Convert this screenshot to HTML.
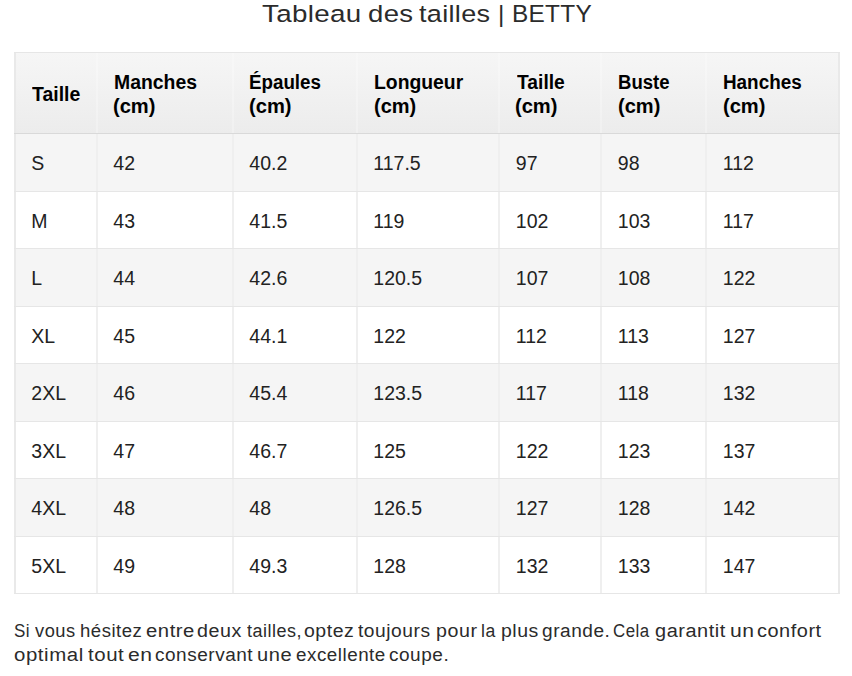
<!DOCTYPE html>
<html><head><meta charset="utf-8"><style>
html,body{margin:0;padding:0;background:#fff;}
body{width:852px;height:676px;position:relative;overflow:hidden;font-family:"Liberation Sans",sans-serif;color:#000;}
.a{position:absolute;white-space:nowrap;}
.hl{position:absolute;height:1px;background:#e6e6e6;}
.vl{position:absolute;width:2px;background:#efefef;}
.t{font-size:19.5px;line-height:19.5px;color:#222;}
.h{font-size:19.5px;line-height:24px;font-weight:bold;}
</style></head><body>

<div class="a" style="left:262.07px;top:-0.89px;font-size:24.5px;line-height:30px;letter-spacing:0.3px;transform:scaleX(1.1329);transform-origin:0 0;color:#2b2b2b">Tableau</div>
<div class="a" style="left:367.58px;top:-0.89px;font-size:24.5px;line-height:30px;letter-spacing:0.3px;transform:scaleX(1.1237);transform-origin:0 0;color:#2b2b2b">des</div>
<div class="a" style="left:419.20px;top:-0.89px;font-size:24.5px;line-height:30px;letter-spacing:0.3px;transform:scaleX(1.1031);transform-origin:0 0;color:#2b2b2b">tailles</div>
<div class="a" style="left:497.90px;top:-0.89px;font-size:24.5px;line-height:30px;letter-spacing:0.3px;transform:scaleX(1.0000);transform-origin:0 0;color:#2b2b2b">|</div>
<div class="a" style="left:512.01px;top:-0.89px;font-size:24.5px;line-height:30px;letter-spacing:0.3px;transform:scaleX(0.9948);transform-origin:0 0;color:#2b2b2b">BETTY</div>
<div class="a" style="left:14px;top:52px;width:826px;height:81px;background:linear-gradient(#f6f6f6,#ececec)"></div>
<div class="a" style="left:14px;top:133px;width:826px;height:57.5px;background:#f5f5f5"></div>
<div class="a" style="left:14px;top:190.5px;width:826px;height:57.5px;background:#ffffff"></div>
<div class="a" style="left:14px;top:248px;width:826px;height:57.5px;background:#f5f5f5"></div>
<div class="a" style="left:14px;top:305.5px;width:826px;height:57.5px;background:#ffffff"></div>
<div class="a" style="left:14px;top:363px;width:826px;height:57.5px;background:#f5f5f5"></div>
<div class="a" style="left:14px;top:420.5px;width:826px;height:57.5px;background:#ffffff"></div>
<div class="a" style="left:14px;top:478px;width:826px;height:57.5px;background:#f5f5f5"></div>
<div class="a" style="left:14px;top:535.5px;width:826px;height:57.5px;background:#ffffff"></div>
<div class="a h" style="left:32.20px;top:82.14px;transform:scaleX(0.9979);transform-origin:0 0">Taille</div>
<div class="a h" style="left:113.51px;top:70.14px;transform:scaleX(0.9939);transform-origin:0 0">Manches</div>
<div class="a h" style="left:249.14px;top:70.14px;transform:scaleX(0.9616);transform-origin:0 0">Épaules</div>
<div class="a h" style="left:373.61px;top:70.14px;transform:scaleX(0.9921);transform-origin:0 0">Longueur</div>
<div class="a h" style="left:516.50px;top:70.14px;transform:scaleX(0.9875);transform-origin:0 0">Taille</div>
<div class="a h" style="left:617.65px;top:70.14px;transform:scaleX(0.9509);transform-origin:0 0">Buste</div>
<div class="a h" style="left:723.03px;top:70.14px;transform:scaleX(0.9675);transform-origin:0 0">Hanches</div>
<div class="a h" style="left:113.47px;top:94.04px;transform:scaleX(1.0308);transform-origin:0 0">(cm)</div>
<div class="a h" style="left:249.07px;top:94.04px;transform:scaleX(1.0333);transform-origin:0 0">(cm)</div>
<div class="a h" style="left:373.57px;top:94.04px;transform:scaleX(1.0256);transform-origin:0 0">(cm)</div>
<div class="a h" style="left:515.47px;top:94.04px;transform:scaleX(1.0308);transform-origin:0 0">(cm)</div>
<div class="a h" style="left:617.57px;top:94.04px;transform:scaleX(1.0282);transform-origin:0 0">(cm)</div>
<div class="a h" style="left:722.97px;top:94.04px;transform:scaleX(1.0308);transform-origin:0 0">(cm)</div>
<div class="a t" style="left:31.3px;top:153.79px">S</div>
<div class="a t" style="left:113.3px;top:153.79px">42</div>
<div class="a t" style="left:249.3px;top:153.79px">40.2</div>
<div class="a t" style="left:373.3px;top:153.79px">117.5</div>
<div class="a t" style="left:515.8px;top:153.79px">97</div>
<div class="a t" style="left:617.8px;top:153.79px">98</div>
<div class="a t" style="left:722.8px;top:153.79px">112</div>
<div class="a t" style="left:31.3px;top:211.79px">M</div>
<div class="a t" style="left:113.3px;top:211.79px">43</div>
<div class="a t" style="left:249.3px;top:211.79px">41.5</div>
<div class="a t" style="left:373.3px;top:211.79px">119</div>
<div class="a t" style="left:515.8px;top:211.79px">102</div>
<div class="a t" style="left:617.8px;top:211.79px">103</div>
<div class="a t" style="left:722.8px;top:211.79px">117</div>
<div class="a t" style="left:31.3px;top:268.79px">L</div>
<div class="a t" style="left:113.3px;top:268.79px">44</div>
<div class="a t" style="left:249.3px;top:268.79px">42.6</div>
<div class="a t" style="left:373.3px;top:268.79px">120.5</div>
<div class="a t" style="left:515.8px;top:268.79px">107</div>
<div class="a t" style="left:617.8px;top:268.79px">108</div>
<div class="a t" style="left:722.8px;top:268.79px">122</div>
<div class="a t" style="left:31.3px;top:326.79px">XL</div>
<div class="a t" style="left:113.3px;top:326.79px">45</div>
<div class="a t" style="left:249.3px;top:326.79px">44.1</div>
<div class="a t" style="left:373.3px;top:326.79px">122</div>
<div class="a t" style="left:515.8px;top:326.79px">112</div>
<div class="a t" style="left:617.8px;top:326.79px">113</div>
<div class="a t" style="left:722.8px;top:326.79px">127</div>
<div class="a t" style="left:31.3px;top:383.79px">2XL</div>
<div class="a t" style="left:113.3px;top:383.79px">46</div>
<div class="a t" style="left:249.3px;top:383.79px">45.4</div>
<div class="a t" style="left:373.3px;top:383.79px">123.5</div>
<div class="a t" style="left:515.8px;top:383.79px">117</div>
<div class="a t" style="left:617.8px;top:383.79px">118</div>
<div class="a t" style="left:722.8px;top:383.79px">132</div>
<div class="a t" style="left:31.3px;top:441.79px">3XL</div>
<div class="a t" style="left:113.3px;top:441.79px">47</div>
<div class="a t" style="left:249.3px;top:441.79px">46.7</div>
<div class="a t" style="left:373.3px;top:441.79px">125</div>
<div class="a t" style="left:515.8px;top:441.79px">122</div>
<div class="a t" style="left:617.8px;top:441.79px">123</div>
<div class="a t" style="left:722.8px;top:441.79px">137</div>
<div class="a t" style="left:31.3px;top:498.79px">4XL</div>
<div class="a t" style="left:113.3px;top:498.79px">48</div>
<div class="a t" style="left:249.3px;top:498.79px">48</div>
<div class="a t" style="left:373.3px;top:498.79px">126.5</div>
<div class="a t" style="left:515.8px;top:498.79px">127</div>
<div class="a t" style="left:617.8px;top:498.79px">128</div>
<div class="a t" style="left:722.8px;top:498.79px">142</div>
<div class="a t" style="left:31.3px;top:556.79px">5XL</div>
<div class="a t" style="left:113.3px;top:556.79px">49</div>
<div class="a t" style="left:249.3px;top:556.79px">49.3</div>
<div class="a t" style="left:373.3px;top:556.79px">128</div>
<div class="a t" style="left:515.8px;top:556.79px">132</div>
<div class="a t" style="left:617.8px;top:556.79px">133</div>
<div class="a t" style="left:722.8px;top:556.79px">147</div>
<div class="vl" style="left:14px;top:52px;height:81px;background:rgba(255,255,255,0.25)"></div>
<div class="vl" style="left:14px;top:134px;height:460px"></div>
<div class="vl" style="left:96px;top:52px;height:81px;background:rgba(255,255,255,0.25)"></div>
<div class="vl" style="left:96px;top:134px;height:460px"></div>
<div class="vl" style="left:232px;top:52px;height:81px;background:rgba(255,255,255,0.25)"></div>
<div class="vl" style="left:232px;top:134px;height:460px"></div>
<div class="vl" style="left:356px;top:52px;height:81px;background:rgba(255,255,255,0.25)"></div>
<div class="vl" style="left:356px;top:134px;height:460px"></div>
<div class="vl" style="left:498px;top:52px;height:81px;background:rgba(255,255,255,0.25)"></div>
<div class="vl" style="left:498px;top:134px;height:460px"></div>
<div class="vl" style="left:600px;top:52px;height:81px;background:rgba(255,255,255,0.25)"></div>
<div class="vl" style="left:600px;top:134px;height:460px"></div>
<div class="vl" style="left:705px;top:52px;height:81px;background:rgba(255,255,255,0.25)"></div>
<div class="vl" style="left:705px;top:134px;height:460px"></div>
<div class="vl" style="left:838px;top:52px;height:81px;background:rgba(255,255,255,0.25)"></div>
<div class="vl" style="left:838px;top:134px;height:460px"></div>
<div class="vl" style="left:14px;top:52px;height:542px;background:#e9e9e9"></div>
<div class="vl" style="left:838px;top:52px;height:542px;background:#e9e9e9"></div>
<div class="hl" style="left:14px;top:52px;width:826px"></div>
<div class="hl" style="left:14px;top:133px;width:826px;background:#d9d9d9"></div>
<div class="hl" style="left:14px;top:191px;width:826px"></div>
<div class="hl" style="left:14px;top:248px;width:826px"></div>
<div class="hl" style="left:14px;top:306px;width:826px"></div>
<div class="hl" style="left:14px;top:363px;width:826px"></div>
<div class="hl" style="left:14px;top:421px;width:826px"></div>
<div class="hl" style="left:14px;top:478px;width:826px"></div>
<div class="hl" style="left:14px;top:536px;width:826px"></div>
<div class="hl" style="left:14px;top:593px;width:826px"></div>
<div class="a" style="left:14.06px;top:618.76px;font-size:18px;line-height:24px;letter-spacing:0.5px;transform:scaleX(0.9429);transform-origin:0 0;color:#2b2b2b">Si</div>
<div class="a" style="left:35.20px;top:618.76px;font-size:18px;line-height:24px;letter-spacing:0.5px;transform:scaleX(1.0154);transform-origin:0 0;color:#2b2b2b">vous</div>
<div class="a" style="left:79.97px;top:618.76px;font-size:18px;line-height:24px;letter-spacing:0.5px;transform:scaleX(1.0310);transform-origin:0 0;color:#2b2b2b">hésitez</div>
<div class="a" style="left:145.58px;top:618.76px;font-size:18px;line-height:24px;letter-spacing:0.5px;transform:scaleX(1.1244);transform-origin:0 0;color:#2b2b2b">entre</div>
<div class="a" style="left:197.01px;top:618.76px;font-size:18px;line-height:24px;letter-spacing:0.5px;transform:scaleX(1.0923);transform-origin:0 0;color:#2b2b2b">deux</div>
<div class="a" style="left:246.50px;top:618.76px;font-size:18px;line-height:24px;letter-spacing:0.5px;transform:scaleX(0.9981);transform-origin:0 0;color:#2b2b2b">tailles,</div>
<div class="a" style="left:303.52px;top:618.76px;font-size:18px;line-height:24px;letter-spacing:0.5px;transform:scaleX(1.0818);transform-origin:0 0;color:#2b2b2b">optez</div>
<div class="a" style="left:358.30px;top:618.76px;font-size:18px;line-height:24px;letter-spacing:0.5px;transform:scaleX(1.0657);transform-origin:0 0;color:#2b2b2b">toujours</div>
<div class="a" style="left:435.61px;top:618.76px;font-size:18px;line-height:24px;letter-spacing:0.5px;transform:scaleX(1.0917);transform-origin:0 0;color:#2b2b2b">pour</div>
<div class="a" style="left:481.02px;top:618.76px;font-size:18px;line-height:24px;letter-spacing:0.5px;transform:scaleX(0.9786);transform-origin:0 0;color:#2b2b2b">la</div>
<div class="a" style="left:500.82px;top:618.76px;font-size:18px;line-height:24px;letter-spacing:0.5px;transform:scaleX(1.0818);transform-origin:0 0;color:#2b2b2b">plus</div>
<div class="a" style="left:541.84px;top:618.76px;font-size:18px;line-height:24px;letter-spacing:0.5px;transform:scaleX(1.0590);transform-origin:0 0;color:#2b2b2b">grande.</div>
<div class="a" style="left:613.26px;top:618.76px;font-size:18px;line-height:24px;letter-spacing:0.5px;transform:scaleX(0.9368);transform-origin:0 0;color:#2b2b2b">Cela</div>
<div class="a" style="left:654.89px;top:618.76px;font-size:18px;line-height:24px;letter-spacing:0.5px;transform:scaleX(1.1065);transform-origin:0 0;color:#2b2b2b">garantit</div>
<div class="a" style="left:729.63px;top:618.76px;font-size:18px;line-height:24px;letter-spacing:0.5px;transform:scaleX(1.1722);transform-origin:0 0;color:#2b2b2b">un</div>
<div class="a" style="left:756.99px;top:618.76px;font-size:18px;line-height:24px;letter-spacing:0.5px;transform:scaleX(1.1053);transform-origin:0 0;color:#2b2b2b">confort</div>
<div class="a" style="left:13.87px;top:643.46px;font-size:18px;line-height:24px;letter-spacing:0.5px;transform:scaleX(1.1339);transform-origin:0 0;color:#2b2b2b">optimal</div>
<div class="a" style="left:88.00px;top:643.46px;font-size:18px;line-height:24px;letter-spacing:0.5px;transform:scaleX(1.1355);transform-origin:0 0;color:#2b2b2b">tout</div>
<div class="a" style="left:127.63px;top:643.46px;font-size:18px;line-height:24px;letter-spacing:0.5px;transform:scaleX(1.1722);transform-origin:0 0;color:#2b2b2b">en</div>
<div class="a" style="left:154.75px;top:643.46px;font-size:18px;line-height:24px;letter-spacing:0.5px;transform:scaleX(1.0549);transform-origin:0 0;color:#2b2b2b">conservant</div>
<div class="a" style="left:257.19px;top:643.46px;font-size:18px;line-height:24px;letter-spacing:0.5px;transform:scaleX(1.1138);transform-origin:0 0;color:#2b2b2b">une</div>
<div class="a" style="left:295.86px;top:643.46px;font-size:18px;line-height:24px;letter-spacing:0.5px;transform:scaleX(1.0440);transform-origin:0 0;color:#2b2b2b">excellente</div>
<div class="a" style="left:388.94px;top:643.46px;font-size:18px;line-height:24px;letter-spacing:0.5px;transform:scaleX(1.0556);transform-origin:0 0;color:#2b2b2b">coupe.</div>
</body></html>
